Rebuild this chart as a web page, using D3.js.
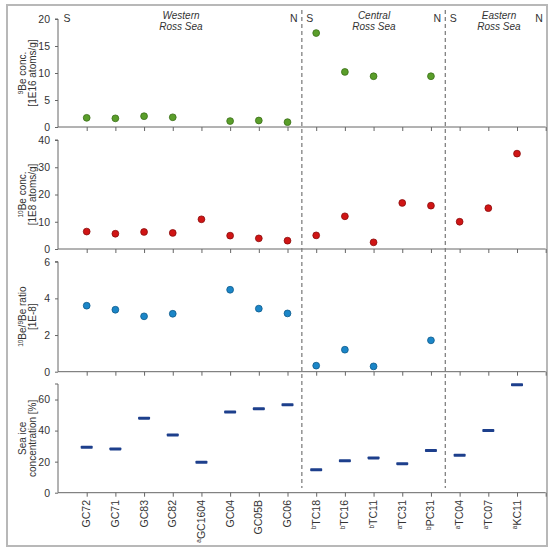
<!DOCTYPE html>
<html><head><meta charset="utf-8">
<script src="https://cdn.jsdelivr.net/npm/d3@7"></script>
<style>body{margin:0;background:#fff}svg{display:block;font-family:"Liberation Sans",Arial,sans-serif}</style>
</head><body><svg id="c" width="558" height="552"></svg>
<script>
const cores = ["GC72","GC71","GC83","GC82","GC1604","GC04","GC05B","GC06","TC18","TC16","TC11","TC31","PC31","TC04","TC07","KC11"];
const coreNotes = ["","","","","a","","","","b","b","b","a","b","a","a","a"];
const be9 = [1.7,1.6,2.0,1.8,null,1.1,1.2,0.9,17.4,10.2,9.4,null,9.4,null,null,null];
const be10 = [6.4,5.6,6.25,5.9,10.9,4.9,3.9,3.05,5.0,12.0,2.45,16.9,15.9,10.0,15.0,35.0];
const ratio = [3.6,3.38,3.02,3.16,null,4.47,3.44,3.18,0.33,1.2,0.29,null,1.71,null,null,null];
const seaIce = [29.3,28.2,48.0,37.2,19.6,51.9,54.0,56.6,14.8,20.6,22.4,18.7,27.1,24.1,40.0,69.5];
const regions = [{name:["Western","Ross Sea"], from:0, to:7},{name:["Central","Ross Sea"], from:8, to:12},{name:["Eastern","Ross Sea"], from:13, to:15}];
const ticks1 = [0,5,10,15,20], ticks2=[0,10,20,30,40], ticks3=[0,2,4,6], ticks4=[0,20,40,60];

const svg = d3.select("#c");
svg.append("rect").attr("x",7).attr("y",5).attr("width",540).attr("height",541)
  .attr("fill","none").attr("stroke","#b8b8b8").attr("stroke-width",2);

const x = d3.scaleLinear().domain([0,17]).range([58,545.7]);
const panels = [
  {data:be9, dom:[0,20], rng:[127,19], ticks:ticks1, kind:"dot", fill:"#5a9e2a", stroke:"#3a6e18", title:[[["9","sup"],["Be conc.",""]],[["[1E16 atoms/g]",""]]]},
  {data:be10, dom:[0,40], rng:[249,140], ticks:ticks2, kind:"dot", fill:"#d01515", stroke:"#8a0c0c", title:[[["10","sup"],["Be conc.",""]],[["[1E8 atoms/g]",""]]]},
  {data:ratio, dom:[0,6], rng:[371.7,261.7], ticks:ticks3, kind:"dot", fill:"#1b86c8", stroke:"#0f5a8a", title:[[["10","sup"],["Be/",""],["9","sup"],["Be ratio",""]],[["[1E-8]",""]]]},
  {data:seaIce, dom:[0,70], rng:[492.7,384], ticks:ticks4, kind:"dash", fill:"#1d3f8c", stroke:"none", title:[[["Sea ice",""]],[["concentration [%]",""]]]}
];

panels.forEach(p=>{
  const y = d3.scaleLinear().domain(p.dom).range(p.rng);
  const g = svg.append("g");
  const ya = g.append("g").attr("transform",`translate(${x(0)},0)`)
    .call(d3.axisLeft(y).tickValues(p.ticks).tickSize(3).tickPadding(5).tickFormat(d3.format("d")));
  ya.select(".domain").attr("stroke","#666").attr("d",`M-3,${y(p.dom[1])}H0V${y(0)}`);
  ya.selectAll(".tick line").attr("stroke","#666");
  ya.selectAll("text").attr("font-size",10.5).attr("fill","#333").attr("font-family","Liberation Sans, Arial, sans-serif");
  const xa = g.append("g").attr("transform",`translate(0,${y(0)})`)
    .call(d3.axisBottom(x).tickValues(d3.range(1,18)).tickSize(4).tickFormat(""));
  xa.select(".domain").attr("stroke","#666").attr("d",`M${x(0)},0H${x(17)}`);
  xa.selectAll(".tick line").attr("stroke","#666");
  const cy = (p.rng[0]+p.rng[1])/2;
  p.title.forEach((line,i)=>{
    const t = g.append("text").attr("transform",`translate(${i===0?26:36},${cy}) rotate(-90)`)
      .attr("text-anchor","middle").attr("font-size",10).attr("fill","#333");
    let prevSup = false;
    line.forEach(([s,k])=>{
      if(k==="sup"){ t.append("tspan").attr("font-size",6.5).attr("dy",-3.5).text(s); prevSup=true; }
      else { const ts=t.append("tspan").text(s); if(prevSup) ts.attr("dy",3.5); prevSup=false; }
    });
  });
  const idx = d3.range(cores.length).filter(i=>p.data[i]!=null);
  if(p.kind==="dot"){
    g.selectAll("circle").data(idx).join("circle")
      .attr("cx",i=>x(i+1)).attr("cy",i=>y(p.data[i])).attr("r",3.4)
      .attr("fill",p.fill).attr("stroke",p.stroke).attr("stroke-width",0.8);
  } else {
    g.selectAll("rect").data(idx).join("rect")
      .attr("x",i=>x(i+1)-6).attr("y",i=>y(p.data[i])-1.5).attr("width",12).attr("height",3)
      .attr("rx",0.8).attr("fill",p.fill);
  }
});

[8.5,13.5].forEach(v=>{
  svg.append("line").attr("x1",x(v)).attr("x2",x(v)).attr("y1",10).attr("y2",488)
    .attr("stroke","#777").attr("stroke-width",1.2).attr("stroke-dasharray","4,3");
});

regions.forEach(r=>{
  const sx = r.from===0 ? 67 : x(r.from+0.5)+8;
  const nx = r.to===15 ? 539 : x(r.to+1.5)-8;
  const cx = r.from===0 ? 181 : (r.from===8 ? 374 : 499);
  svg.append("text").attr("x",sx).attr("y",22).attr("text-anchor","middle").attr("font-size",10.5).attr("fill","#333").text("S");
  svg.append("text").attr("x",nx).attr("y",22).attr("text-anchor","middle").attr("font-size",10.5).attr("fill","#333").text("N");
  r.name.forEach((s,i)=>svg.append("text").attr("x",cx).attr("y",19+i*11).attr("text-anchor","middle")
    .attr("font-size",10).attr("font-style","italic").attr("fill","#333").text(s));
});

cores.forEach((c,i)=>{
  const t = svg.append("text").attr("transform",`translate(${x(i+1)+3.5},500) rotate(-90)`)
    .attr("text-anchor","end").attr("font-size",10.5).attr("fill","#333");
  if(coreNotes[i]){ t.append("tspan").attr("font-size",6.5).attr("dy",-3.5).text(coreNotes[i]); t.append("tspan").attr("dy",3.5).text(c); }
  else t.text(c);
});
</script></body></html>
